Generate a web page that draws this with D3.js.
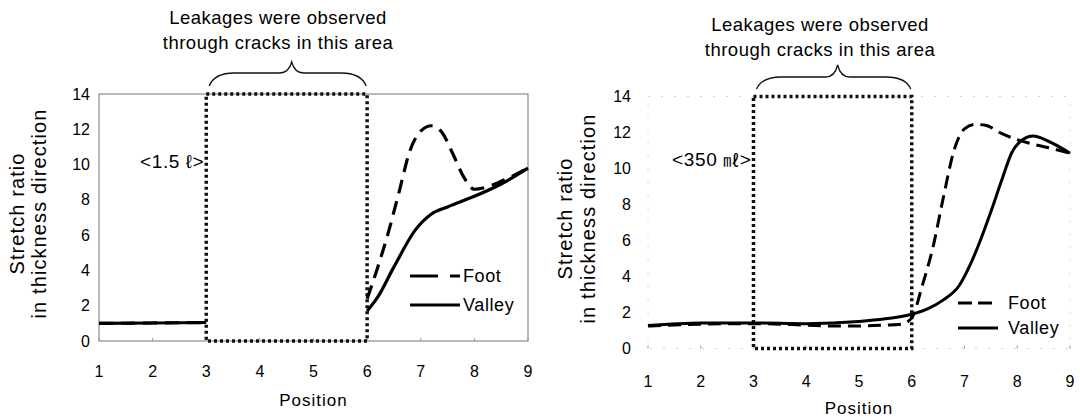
<!DOCTYPE html>
<html>
<head>
<meta charset="utf-8">
<script src="https://cdn.jsdelivr.net/npm/d3@7"></script>
<style>
    body { margin: 0; background: #fff; }
    svg { display: block; font-family: "Liberation Sans", Arial, sans-serif; }
</style>
</head>
<body>
<div id="chart"></div>
<script>
// tick labels
const xTicks = [1, 2, 3, 4, 5, 6, 7, 8, 9];
const yTicks = [0, 2, 4, 6, 8, 10, 12, 14];
const seriesNames = ['Foot', 'Valley'];
const noteLines = ['Leakages were observed', 'through cracks in this area'];
const yTitleLines = ['Stretch ratio', 'in thickness direction'];

// left panel, 1.5 l container (null = no data between 3 and 6)
const leftFootX = [1, 2, 3, 4.5, 6, 6.2, 6.4, 6.6, 6.8, 7.0, 7.2, 7.4, 7.6, 7.8, 8.0, 8.2, 8.5, 9];
const leftFootY = [1.0, 1.02, 1.05, null, 2.4, 4.2, 6.2, 8.5, 10.8, 11.9, 12.2, 11.8, 10.6, 9.3, 8.6, 8.7, 9.05, 9.8];
const leftValleyX = [1, 2, 3, 4.5, 6, 6.2, 6.5, 6.9, 7.2, 7.5, 8, 8.5, 9];
const leftValleyY = [1.0, 1.02, 1.05, null, 1.7, 2.5, 4.2, 6.3, 7.2, 7.6, 8.2, 8.9, 9.8];

// right panel, 350 ml container
const rightFootX = [1, 2, 3, 4, 4.5, 5, 5.5, 5.8, 6, 6.2, 6.4, 6.6, 6.8, 7, 7.2, 7.4, 7.7, 8, 8.3, 8.6, 9];
const rightFootY = [1.25, 1.35, 1.38, 1.3, 1.25, 1.25, 1.3, 1.35, 1.7, 3.5, 5.6, 8.4, 11.0, 12.2, 12.45, 12.4, 11.95, 11.6, 11.35, 11.15, 10.85];
const rightValleyX = [1, 2, 3, 4, 5, 5.5, 6, 6.3, 6.6, 6.9, 7.1, 7.3, 7.5, 7.7, 7.9, 8.1, 8.3, 8.6, 9];
const rightValleyY = [1.28, 1.42, 1.42, 1.38, 1.5, 1.65, 1.9, 2.2, 2.7, 3.5, 4.6, 6.0, 7.6, 9.3, 10.9, 11.6, 11.8, 11.5, 10.85];

const leakZone = [3, 6];

class StretchChart {
    constructor(_config, _data) {
        this.config = {
            svg: _config.svg,
            left: _config.left,
            right: _config.right,
            top: _config.top,
            bottom: _config.bottom,
            volumeLabel: _config.volumeLabel,
            labelY: _config.labelY,
            dash: _config.dash,
            lineWidth: _config.lineWidth,
            faintFrame: _config.faintFrame,
            tickLabelGap: _config.tickLabelGap,
            titleX: _config.titleX,
            titleGap: _config.titleGap,
            noteX: _config.noteX,
            noteY: _config.noteY,
            braceY: _config.braceY,
            legend: _config.legend,
            xLabelY: _config.xLabelY,
            positionY: _config.positionY
        };
        this.data = _data;
        this.initVis();
    }

    initVis() {
        let vis = this;
        vis.x = d3.scaleLinear().domain([1, 9]).range([vis.config.left, vis.config.right]);
        vis.y = d3.scaleLinear().domain([0, 14]).range([vis.config.bottom, vis.config.top]);
        vis.chart = vis.config.svg.append('g');
        vis.renderVis();
    }

    renderVis() {
        let vis = this;
        const cfg = vis.config;

        // frame
        vis.chart.append('rect')
            .attr('x', vis.x(1)).attr('y', vis.y(14))
            .attr('width', vis.x(9) - vis.x(1)).attr('height', vis.y(0) - vis.y(14))
            .attr('fill', 'none')
            .attr('stroke', cfg.faintFrame ? '#d4d4d4' : '#777')
            .attr('stroke-width', 1)
            .attr('stroke-dasharray', cfg.faintFrame ? '2,11' : null);

        // tiny tick marks on the bottom
        vis.chart.selectAll('.xt').data(xTicks).enter().append('line')
            .attr('x1', d => vis.x(d)).attr('x2', d => vis.x(d))
            .attr('y1', vis.y(0)).attr('y2', vis.y(0) - 3)
            .attr('stroke', '#999').attr('stroke-width', 1);

        // tick labels
        vis.chart.selectAll('.xl').data(xTicks).enter().append('text')
            .attr('x', d => vis.x(d)).attr('y', cfg.xLabelY)
            .attr('text-anchor', 'middle').attr('dy', '0.35em')
            .attr('font-size', 16).text(d => d);
        vis.chart.selectAll('.yl').data(yTicks).enter().append('text')
            .attr('x', vis.x(1) - cfg.tickLabelGap).attr('y', d => vis.y(d))
            .attr('text-anchor', 'end').attr('dy', '0.35em')
            .attr('font-size', 16).text(d => d);

        // axis titles
        vis.chart.append('text')
            .attr('x', (vis.x(1) + vis.x(9)) / 2).attr('y', cfg.positionY)
            .attr('text-anchor', 'middle').attr('dy', '0.35em')
            .attr('font-size', 17).attr('letter-spacing', 1).text('Position');
        const midY = (vis.y(0) + vis.y(14)) / 2 - 4;
        yTitleLines.forEach((t, i) => {
            vis.chart.append('text')
                .attr('transform', `translate(${cfg.titleX + i * cfg.titleGap},${midY}) rotate(-90)`)
                .attr('text-anchor', 'middle')
                .attr('font-size', 20).attr('letter-spacing', 1.1).text(t);
        });

        // leakage zone (dotted box)
        vis.chart.append('rect')
            .attr('x', vis.x(leakZone[0])).attr('y', vis.y(14))
            .attr('width', vis.x(leakZone[1]) - vis.x(leakZone[0]))
            .attr('height', vis.y(0) - vis.y(14))
            .attr('fill', 'none').attr('stroke', '#111')
            .attr('stroke-width', 3.5).attr('stroke-dasharray', '3,3');

        // volume label
        vis.chart.append('text')
            .attr('x', vis.x(leakZone[0]) - 2).attr('y', vis.y(cfg.labelY))
            .attr('text-anchor', 'end').attr('dy', '0.35em')
            .attr('font-size', 19).attr('letter-spacing', 0.6).html(cfg.volumeLabel);

        // note and brace
        noteLines.forEach((t, i) => {
            vis.chart.append('text')
                .attr('x', cfg.noteX).attr('y', cfg.noteY + i * 25)
                .attr('text-anchor', 'middle')
                .attr('font-size', 18.5).attr('letter-spacing', 0.5).text(t);
        });
        const bx0 = vis.x(leakZone[0]) + 3, bx1 = vis.x(leakZone[1]) - 1;
        const bm = (bx0 + bx1) / 2 + 4;
        const [yb, yf, yt] = cfg.braceY;
        vis.chart.append('path')
            .attr('d', `M${bx0},${yb} Q${bx0 + 5},${yf} ${bx0 + 25},${yf} L${bm - 12},${yf}` +
                ` Q${bm - 3},${yf} ${bm},${yt} Q${bm + 3},${yf} ${bm + 12},${yf}` +
                ` L${bx1 - 25},${yf} Q${bx1 - 5},${yf} ${bx1},${yb}`)
            .attr('fill', 'none').attr('stroke', '#111').attr('stroke-width', 1.3);

        // series
        const line = d3.line()
            .defined(d => d[1] !== null)
            .x(d => vis.x(d[0]))
            .y(d => vis.y(d[1]))
            .curve(d3.curveMonotoneX);

        vis.data.forEach(s => {
            vis.chart.append('path')
                .datum(d3.zip(s.x, s.y))
                .attr('d', line)
                .attr('fill', 'none').attr('stroke', '#000')
                .attr('stroke-width', cfg.lineWidth)
                .attr('stroke-linecap', 'butt')
                .attr('stroke-dasharray', s.name === 'Foot' ? cfg.dash : null);
        });

        // legend
        const lg = cfg.legend;
        vis.data.forEach((s, i) => {
            const ly = lg.y + i * lg.step;
            vis.chart.append('line')
                .attr('x1', lg.x).attr('x2', lg.x + lg.len)
                .attr('y1', ly).attr('y2', ly)
                .attr('stroke', '#000').attr('stroke-width', cfg.lineWidth)
                .attr('stroke-dasharray', s.name === 'Foot' ? lg.dash : null);
            vis.chart.append('text')
                .attr('x', lg.x + lg.len + lg.gap).attr('y', ly)
                .attr('dy', '0.35em').attr('font-size', 18)
                .attr('letter-spacing', 0.6).text(s.name);
        });
    }
}

const svg = d3.select('#chart').append('svg')
    .attr('width', 1080).attr('height', 418);

new StretchChart({
    svg: svg, left: 99, right: 528, top: 94, bottom: 341,
    volumeLabel: '&lt;1.5 \u2113&gt;', labelY: 10.2,
    dash: '14,8', lineWidth: 3.2, faintFrame: false, tickLabelGap: 9,
    titleX: 24, titleGap: 22, noteX: 278, noteY: 24, braceY: [86, 73, 62],
    legend: {x: 410, y: 276, step: 29, len: 50, gap: 3, dash: '28,12'},
    xLabelY: 371, positionY: 400
}, [
    {name: seriesNames[0], x: leftFootX, y: leftFootY},
    {name: seriesNames[1], x: leftValleyX, y: leftValleyY}
]);

new StretchChart({
    svg: svg, left: 648, right: 1070, top: 96.5, bottom: 348.5,
    volumeLabel: '&lt;350 <tspan font-family="Noto Sans CJK KR" font-size="16">\u3396</tspan>&gt;', labelY: 10.5,
    dash: '13,7', lineWidth: 3, faintFrame: true, tickLabelGap: 17,
    titleX: 572, titleGap: 23, noteX: 820, noteY: 31, braceY: [89, 77, 65],
    legend: {x: 958, y: 303, step: 25, len: 40, gap: 10, dash: '14,6'},
    xLabelY: 381, positionY: 408
}, [
    {name: seriesNames[0], x: rightFootX, y: rightFootY},
    {name: seriesNames[1], x: rightValleyX, y: rightValleyY}
]);
</script>
</body>
</html>
